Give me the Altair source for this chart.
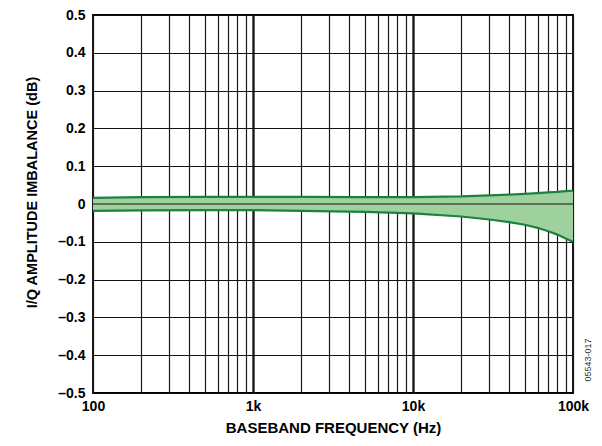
import altair as alt
import pandas as pd

# data
freq = [100, 200, 500, 1000, 2000, 5000, 10000, 20000, 30000, 40000,
        50000, 60000, 70000, 80000, 90000, 100000]
upper = [0.016, 0.018, 0.019, 0.019, 0.019, 0.018, 0.018, 0.020, 0.023,
         0.025, 0.027, 0.029, 0.031, 0.032, 0.034, 0.035]
lower = [-0.018, -0.017, -0.016, -0.016, -0.018, -0.021, -0.025, -0.033,
         -0.041, -0.048, -0.055, -0.063, -0.072, -0.081, -0.091, -0.100]

x_grid = [m * 10 ** e for e in (2, 3, 4) for m in range(1, 10)] + [100000]
y_ticks = [-0.5, -0.4, -0.3, -0.2, -0.1, 0, 0.1, 0.2, 0.3, 0.4, 0.5]

df = pd.DataFrame({"f": freq, "up": upper, "lo": lower})

FONT = "Liberation Sans"
W, H = 480, 378

xs = alt.Scale(type="log", domain=[100, 100000], nice=False)
ys = alt.Scale(domain=[-0.5, 0.5], nice=False)

xaxis = alt.Axis(
    values=x_grid, ticks=False, domain=False,
    labelExpr="datum.value==100?'100':datum.value==1000?'1k':datum.value==10000?'10k':datum.value==100000?'100k':''",
    labelFont=FONT, labelFontWeight="bold", labelFontSize=14, labelColor="black",
    labelPadding=6, labelFlush=False, labelOverlap=False,
    title="BASEBAND FREQUENCY (Hz)", titleFont=FONT, titleFontWeight="bold",
    titleFontSize=15, titleColor="black",
    titleX=W / 2, titleY=34, titleBaseline="middle", titleAlign="center",
    grid=True, gridColor="#1a1a1a",
    gridWidth={"condition": {"test": "datum.value==1000 || datum.value==10000", "value": 2.4}, "value": 1.2},
)
yaxis = alt.Axis(
    values=y_ticks, ticks=False, domain=False,
    labelExpr="datum.value==0?'0':(datum.value<0?'\u2013'+format(abs(datum.value),'.1f'):format(datum.value,'.1f'))",
    labelFont=FONT, labelFontWeight="bold", labelFontSize=14, labelColor="black",
    labelPadding=8, labelFlush=False, labelOverlap=False, labelBound=False,
    title="I/Q AMPLITUDE IMBALANCE (dB)", titleFont=FONT, titleFontWeight="bold",
    titleFontSize=14.5, titleColor="black",
    titleX=-61, titleY=177, titleBaseline="middle", titleAlign="center", titleAngle=270,
    grid=True, gridColor="#111111", gridWidth=1.2,
)

base = alt.Chart(df)
area = base.mark_area(color="#9fd19c", opacity=1).encode(
    x=alt.X("f:Q", scale=xs, axis=xaxis),
    y=alt.Y("lo:Q", scale=ys, axis=yaxis),
    y2="up:Q",
)
l_up = base.mark_line(color="#1b8242", strokeWidth=2.2).encode(
    x=alt.X("f:Q", scale=xs, axis=xaxis), y=alt.Y("up:Q", scale=ys, axis=yaxis))
l_lo = base.mark_line(color="#1b8242", strokeWidth=2.2).encode(
    x=alt.X("f:Q", scale=xs, axis=xaxis), y=alt.Y("lo:Q", scale=ys, axis=yaxis))

zero = alt.Chart(pd.DataFrame({"z": [0]})).mark_rule(color="#111111", strokeWidth=1.2).encode(
    y=alt.Y("z:Q", scale=ys, axis=yaxis))

note = alt.Chart(pd.DataFrame({"t": ["05543-017"]})).mark_text(
    angle=270, font=FONT, fontSize=9, color="#333333", align="center", baseline="middle"
).encode(text="t:N", x=alt.value(W + 15), y=alt.value(H - 33))

chart = alt.layer(area, zero, l_up, l_lo, note).properties(
    width=W, height=H,
    autosize=alt.AutoSizeParams(type="none"),
    padding={"left": 85, "top": 7, "right": 21, "bottom": 45},
    background="white",
).configure_view(stroke="black", strokeWidth=1.8).configure_axis(labelOverlap=False)

chart.save("out.html", embed_options={"renderer": "svg", "actions": False})
